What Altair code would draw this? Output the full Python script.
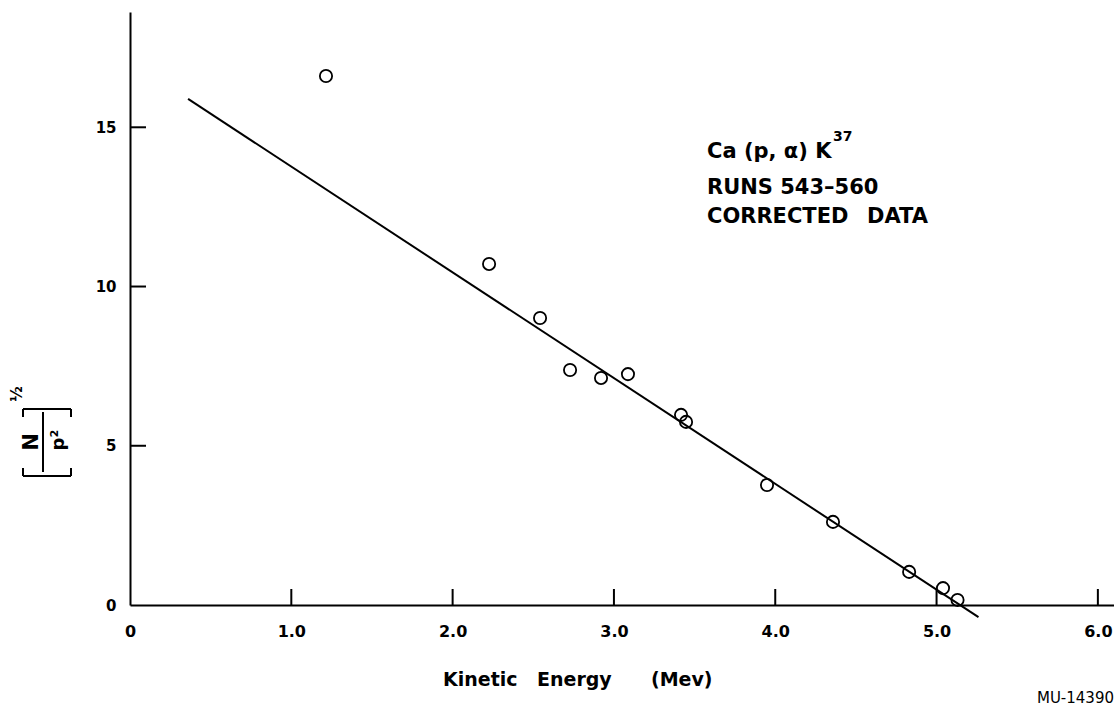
import altair as alt
import pandas as pd

# Measured points: kinetic energy (MeV) vs [N/p^2]^(1/2)
energy = [1.215, 2.226, 2.542, 2.728, 2.920, 3.087, 3.416, 3.447, 3.949, 4.358, 4.830, 5.040, 5.130]
kurie = [16.61, 10.71, 9.01, 7.38, 7.13, 7.25, 5.97, 5.75, 3.77, 2.61, 1.04, 0.53, 0.16]

# Straight-line fit, drawn between its two end points
fit_energy = [0.36, 5.26]
fit_kurie = [15.89, -0.38]

x_ticks = [0, 1, 2, 3, 4, 5, 6]
y_ticks = [0, 5, 10, 15]

X_MAX = 6.1
Y_MAX = 18.62
W, H = 984, 593
FONT = "DejaVu Sans"

xs = alt.Scale(domain=[0, X_MAX], nice=False, zero=False)
ys = alt.Scale(domain=[0, Y_MAX], nice=False, zero=False)

points_df = pd.DataFrame({"energy": energy, "kurie": kurie})
fit_df = pd.DataFrame({"energy": fit_energy, "kurie": fit_kurie})
one = pd.DataFrame({"k": [0]})

x_axis = alt.Axis(
    values=x_ticks, tickSize=0, grid=False, domainWidth=2, domainColor="black",
    labelFont=FONT, labelFontWeight="bold", labelFontSize=16, labelColor="black",
    labelPadding=18, labelFlush=False, labelBound=False, labelOverlap=False,
    labelExpr="datum.value == 0 ? '0' : format(datum.value, '.1f')",
    title=None,
)
y_axis = alt.Axis(
    values=y_ticks, tickSize=0, grid=False, domainWidth=2, domainColor="black",
    labelFont=FONT, labelFontWeight="bold", labelFontSize=15, labelColor="black",
    labelPadding=14, title=None,
)

points = alt.Chart(points_df).mark_point(
    shape="circle", size=150, filled=False, color="black", strokeWidth=1.8, opacity=1
).encode(
    x=alt.X("energy:Q", scale=xs, axis=x_axis),
    y=alt.Y("kurie:Q", scale=ys, axis=y_axis),
)

fit = alt.Chart(fit_df).mark_line(color="black", strokeWidth=2, clip=False).encode(
    x=alt.X("energy:Q", scale=xs),
    y=alt.Y("kurie:Q", scale=ys),
)

# Inward-pointing tick marks
x_tick_df = pd.DataFrame({"t": [v for v in x_ticks if v > 0]})
y_tick_df = pd.DataFrame({"t": [v for v in y_ticks if v > 0]})
x_tick_marks = alt.Chart(x_tick_df).mark_rule(color="black", strokeWidth=2).encode(
    x=alt.X("t:Q", scale=xs), y=alt.value(H), y2=alt.value(H - 16)
)
y_tick_marks = alt.Chart(y_tick_df).mark_rule(color="black", strokeWidth=2).encode(
    y=alt.Y("t:Q", scale=ys), x=alt.value(0), x2=alt.value(16)
)


def label(text, x, y, size, weight="bold", angle=0, align="left", baseline="alphabetic"):
    return alt.Chart(one).mark_text(
        text=text, font=FONT, fontSize=size, fontWeight=weight, color="black",
        angle=angle, align=align, baseline=baseline,
    ).encode(x=alt.value(x), y=alt.value(y))


def seg(x1, y1, x2, y2):
    return alt.Chart(one).mark_rule(color="black", strokeWidth=2).encode(
        x=alt.value(x1), y=alt.value(y1), x2=alt.value(x2), y2=alt.value(y2)
    )


notes = [
    label("Ca (p, \u03b1) K", 577, 146, 21),
    label("37", 703, 129, 14),
    label("RUNS 543\u2013560", 577, 182, 21),
    label("CORRECTED", 577, 211, 21),
    label("DATA", 737, 211, 21),
    label("Kinetic", 313, 674, 19),
    label("Energy", 407, 674, 19),
    label("(Mev)", 521, 674, 19),
    label("MU-14390", 984, 691, 15, weight="normal", align="right"),
]

# Rotated y-axis title: [N / p^2]^(1/2)
y_title = [
    label("N", -98, 430, 21, angle=270, align="center", baseline="middle"),
    label("p\u00b2", -71, 428, 18, angle=270, align="center", baseline="middle"),
    label("\u00bd", -113, 382, 15, angle=270, align="center", baseline="middle"),
    seg(-87, 400, -87, 460),
    seg(-107, 397, -59, 397),
    seg(-107, 397, -107, 405),
    seg(-59, 397, -59, 405),
    seg(-107, 464, -59, 464),
    seg(-107, 464, -107, 456),
    seg(-59, 464, -59, 456),
]

chart = alt.layer(
    points, fit, x_tick_marks, y_tick_marks, *notes, *y_title
).properties(
    width=W, height=H,
    autosize=alt.AutoSizeParams(type="none"),
    padding={"left": 130, "top": 12, "right": 0, "bottom": 102},
    background="white",
).configure_view(stroke=None)

chart.save("out.html", embed_options={"renderer": "svg", "actions": False})
